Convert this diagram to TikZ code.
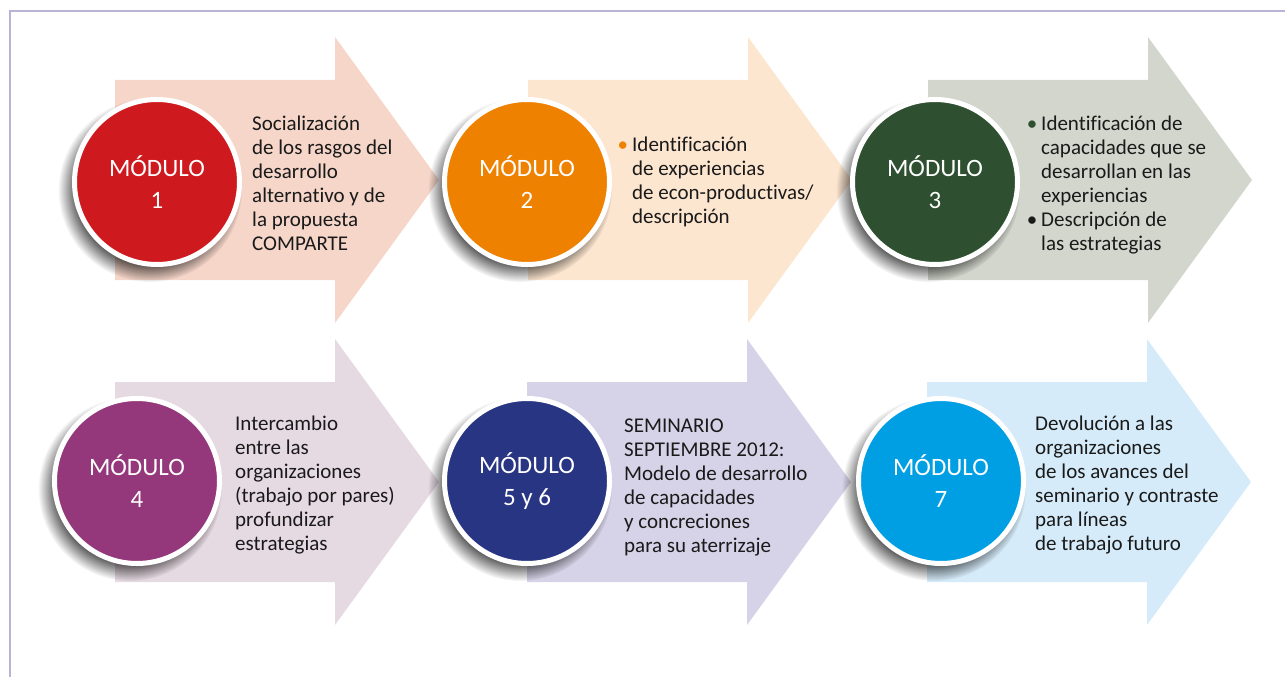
\documentclass[tikz,border=0pt]{standalone}
\usepackage{fontspec}
\setmainfont[Ligatures=NoCommon]{Carlito}
\usetikzlibrary{fadings}

\definecolor{arrowa}{HTML}{F6D6C9}
\definecolor{arrowb}{HTML}{FDE6D0}
\definecolor{arrowc}{HTML}{D3D6CD}
\definecolor{arrowd}{HTML}{E6DAE2}
\definecolor{arrowe}{HTML}{D6D2E7}
\definecolor{arrowf}{HTML}{D5EBF9}
\definecolor{modred}{HTML}{CE1A1E}
\definecolor{modorange}{HTML}{EE8100}
\definecolor{modgreen}{HTML}{2E5030}
\definecolor{modpurple}{HTML}{94377B}
\definecolor{modnavy}{HTML}{283583}
\definecolor{modblue}{HTML}{009FE3}
\definecolor{framecol}{HTML}{B8B4D6}
\definecolor{textgray}{HTML}{1A1A1A}

\pgfdeclarelayer{back}
\pgfsetlayers{back,main}

\begin{document}
\begin{tikzpicture}[x=1pt,y=-1pt,
  modcircle/.style={circle, draw=white, line width=5pt, minimum size=165pt, inner sep=0pt,
    text=white, align=center, font=\fontsize{25}{32}\selectfont},
  modtext/.style={anchor=base west, align=left, inner sep=0pt, text=textgray,
    font=\fontsize{21}{24}\selectfont},
  modshadow/.style={fill=black, opacity=.65, path fading=circle with fuzzy edge 20 percent}]
\useasboundingbox (0,0) rectangle (1285,677);
\draw[framecol, line width=1.5pt] (10,677) -- (10,11) -- (1285,11);

% arrows
\begin{pgfonlayer}{back}
\foreach \ax/\ay/\col in {115/180/arrowa, 528/180/arrowb, 928/180/arrowc,
                          115/482/arrowd, 527/482/arrowe, 927/482/arrowf}
  \fill[\col] (\ax,\ay-100) -- (\ax+220,\ay-100) -- (\ax+220,\ay-143) -- (\ax+324,\ay)
    -- (\ax+220,\ay+143) -- (\ax+220,\ay+100) -- (\ax,\ay+100) -- cycle;
\end{pgfonlayer}

% modules
\node[modcircle, fill=modred] (m1) at (157,182) {MÓDULO\\1};
\node[modcircle, fill=modorange] (m2) at (527,182) {MÓDULO\\2};
\node[modcircle, fill=modgreen] (m3) at (935,182) {MÓDULO\\3};
\node[modcircle, fill=modpurple] (m4) at (137,481) {MÓDULO\\4};
\node[modcircle, fill=modnavy] (m5) at (527,481) {MÓDULO\\5 y 6};
\node[modcircle, fill=modblue] (m7) at (941,481) {MÓDULO\\7};

\begin{pgfonlayer}{back}
\foreach \n in {m1,m2,m3,m4,m5,m7}
  \fill[modshadow] ([xshift=-7pt,yshift=-8pt]\n.center) circle (92);
\end{pgfonlayer}

% texts (anchored at the last line)
\node[modtext] (t1) at (252,250) {Socialización\\de los rasgos del\\desarrollo\\alternativo y de\\la propuesta\\COMPARTE};
\node[modtext] (t2) at (632,223) {\llap{\textcolor{modorange}{•}\hspace{4pt}}Identificación\\de experiencias\\de econ-productivas/\\descripción};
\node[modtext] (t3) at (1041,250) {\llap{\textcolor{modgreen}{•}\hspace{4pt}}Identificación de\\capacidades que se\\desarrollan en las\\experiencias\\\llap{•\hspace{4pt}}Descripción de\\las estrategias};
\node[modtext] (t4) at (235,550) {Intercambio\\entre las\\organizaciones\\(trabajo por pares)\\profundizar\\estrategias};
\node[modtext] (t5) at (624,552) {SEMINARIO\\SEPTIEMBRE 2012:\\Modelo de desarrollo\\de capacidades\\y concreciones\\para su aterrizaje};
\node[modtext] (t6) at (1035,550) {Devolución a las\\organizaciones\\de los avances del\\seminario y contraste\\para líneas\\de trabajo futuro};
\end{tikzpicture}
\end{document}
